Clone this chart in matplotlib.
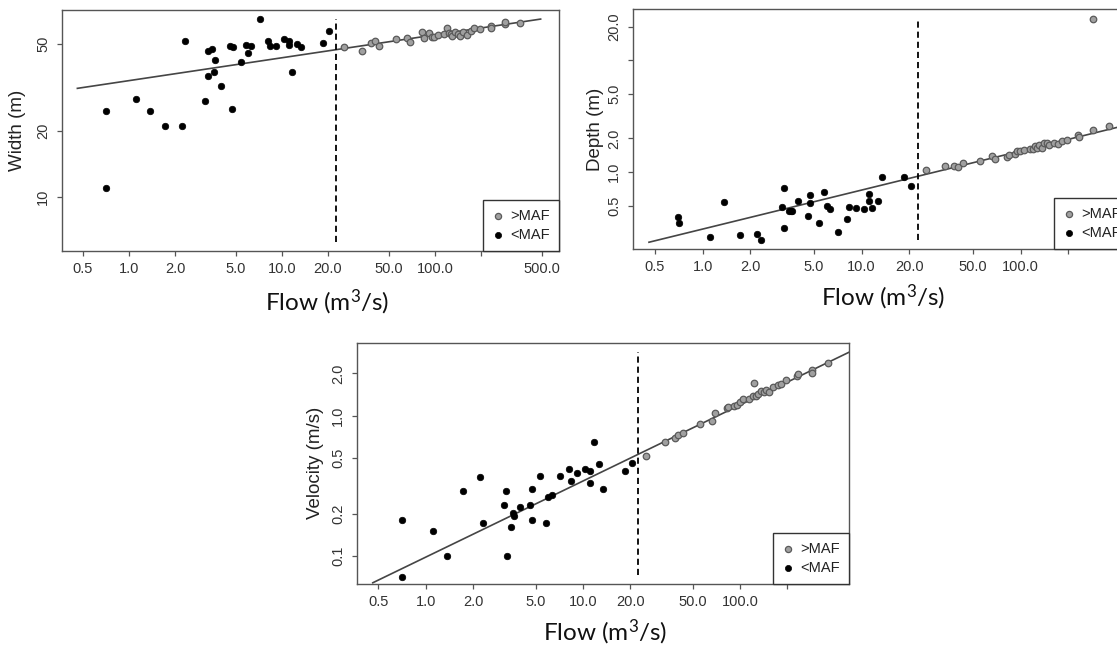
import numpy as np
import matplotlib
matplotlib.use('Agg')
import matplotlib.pyplot as plt
from matplotlib.ticker import FixedLocator, FixedFormatter, NullLocator

plt.rcParams['font.family'] = 'Liberation Sans'
plt.rcParams['mathtext.fontset'] = 'custom'
plt.rcParams['mathtext.rm'] = 'Lato'
plt.rcParams['mathtext.it'] = 'Lato'

# datos: caudal por debajo / por encima del caudal medio anual (MAF)
flow_low = [0.705, 0.71, 1.113, 1.366, 1.717, 2.21, 2.32, 3.15, 3.26, 3.27, 3.49,
            3.58, 3.64, 3.98, 4.57, 4.72, 4.75, 5.36, 5.78, 6.03, 6.31, 7.13, 8.15,
            8.34, 9.2, 10.3, 11.07, 11.1, 11.68, 12.6, 13.37, 18.5, 20.4]
width_low = [24.6, 11.05, 28.1, 24.8, 21.1, 21.1, 51.2, 27.4, 35.6, 46.2, 47.2,
             37.1, 42.2, 32.1, 48.7, 25.1, 48.2, 41.2, 49.4, 45.3, 48.7, 64.4, 51.2,
             48.7, 48.7, 52.3, 51.2, 49.4, 37.2, 49.7, 48.2, 50.1, 57.2]
depth_low = [0.393, 0.349, 0.262, 0.541, 0.271, 0.280, 0.249, 0.488, 0.713, 0.313, 0.453,
             0.447, 0.453, 0.552, 0.403, 0.621, 0.529, 0.349, 0.660, 0.500, 0.468, 0.290,
             0.381, 0.492, 0.478, 0.471, 0.643, 0.552, 0.478, 0.552, 0.911, 0.911, 0.757]
vel_low = [0.0705, 0.180, 0.150, 0.100, 0.291, 0.363, 0.171, 0.230, 0.291, 0.100, 0.160,
           0.202, 0.191, 0.222, 0.230, 0.180, 0.301, 0.373, 0.171, 0.261, 0.271, 0.373,
           0.414, 0.342, 0.392, 0.414, 0.405, 0.331, 0.652, 0.450, 0.301, 0.403, 0.462]

flow_high = [25.3, 33.4, 38.3, 40.4, 43.3, 55.3, 65.9, 69.0, 82.4, 84.1, 91.8, 94.9,
             99.2, 105, 114, 120, 123, 127, 130, 136, 141, 146, 152, 163, 173, 181,
             197, 231, 233, 285, 286, 361]
width_high = [48.2, 46.2, 50.4, 51.3, 48.7, 52.3, 53.2, 51.0, 56.3, 53.2, 55.6, 53.3,
              53.3, 54.7, 55.4, 58.8, 55.6, 55.4, 54.1, 56.6, 55.4, 54.1, 56.6, 54.5,
              57.2, 59.0, 58.0, 60.3, 58.6, 61.6, 62.7, 62.1]
depth_high = [1.045, 1.14, 1.13, 1.11, 1.20, 1.25, 1.40, 1.31, 1.36, 1.41, 1.44, 1.54,
              1.54, 1.56, 1.60, 1.60, 1.71, 1.64, 1.73, 1.64, 1.83, 1.83, 1.76, 1.83,
              1.80, 1.89, 1.95, 2.13, 2.07, 2.36, 23.4, 2.56]
vel_high = [0.513, 0.646, 0.697, 0.728, 0.748, 0.868, 0.916, 1.04, 1.13, 1.15, 1.17, 1.19,
            1.26, 1.31, 1.31, 1.39, 1.72, 1.38, 1.43, 1.51, 1.47, 1.53, 1.47, 1.61,
            1.66, 1.68, 1.78, 1.92, 1.98, 2.10, 2.01, 2.39]

maf = 22.5
# ajustes potenciales y = a * Q^b
width_fit = (33.9, 0.104)
depth_fit = (0.309, 0.349)
vel_fit = (0.0977, 0.543)
fit_range = [0.46, 490]

x_ticks = [0.5, 1, 2, 5, 10, 20, 50, 100, 200, 500]
x_labels = ['0.5', '1.0', '2.0', '5.0', '10.0', '20.0', '50.0', '100.0', '', '500.0']
x_labels_cut = ['0.5', '1.0', '2.0', '5.0', '10.0', '20.0', '50.0', '100.0', '', '']
width_ticks = [10, 20, 50]
width_labels = ['10', '20', '50']
depth_ticks = [0.5, 1, 2, 5, 10, 20]
depth_labels = ['0.5', '1.0', '2.0', '5.0', '', '20.0']
vel_ticks = [0.1, 0.2, 0.5, 1, 2]
vel_labels = ['0.1', '0.2', '0.5', '1.0', '2.0']

W, H = 1117, 645
fig = plt.figure(figsize=(W / 100, H / 100), dpi=100)

plt.rcParams.update({'legend.fontsize': 10.5, 'legend.borderpad': 0.62,
                     'legend.labelspacing': 0.32, 'legend.handletextpad': 0.45,
                     'legend.handlelength': 0.8, 'legend.fancybox': False,
                     'legend.framealpha': 1, 'legend.markerscale': 0.95})


def add_ax(left, top, right, bottom):
    return fig.add_axes([left / W, 1 - bottom / H, (right - left) / W, (bottom - top) / H])


def panel(ax, ylim, xlim, xlabels, yticks, ylabels, y_high, y_low, fit, leg_x=None):
    ax.set_xscale('log')
    ax.set_yscale('log')
    ax.set_xlim(xlim)
    ax.set_ylim(ylim)

    q = np.array(fit_range)
    ax.plot(q, fit[0] * q ** fit[1], color='#454545', lw=1.2, zorder=2)

    # linea vertical en el MAF (rango interno del eje, como en R)
    lo, hi = np.log10(ylim)
    ext = (hi - lo) * 0.04 / 1.08
    ax.plot([maf, maf], [10 ** (lo + ext), 10 ** (hi - ext)], color='black',
            lw=1.3, dashes=(3.4, 2.2), zorder=2)

    ax.scatter(flow_high, y_high, s=22, c='#a0a0a0', edgecolors='#5a5a5a',
               linewidths=0.9, zorder=3, label='>MAF')
    ax.scatter(flow_low, y_low, s=22, c='black', edgecolors='black',
               linewidths=0.5, zorder=4, label='<MAF')

    ax.xaxis.set_major_locator(FixedLocator(x_ticks))
    ax.xaxis.set_major_formatter(FixedFormatter(xlabels))
    ax.yaxis.set_major_locator(FixedLocator(yticks))
    ax.yaxis.set_major_formatter(FixedFormatter(ylabels))
    ax.xaxis.set_minor_locator(NullLocator())
    ax.yaxis.set_minor_locator(NullLocator())
    ax.tick_params(length=3.6, width=0.9, color='#555555', labelsize=10.5,
                   labelcolor='#333333')
    ax.tick_params(axis='x', pad=4.0)
    ax.tick_params(axis='y', labelrotation=90, pad=5.0)
    for lab in ax.get_yticklabels():
        lab.set_va('center')

    for s in ax.spines.values():
        s.set_color('#555555')
        s.set_linewidth(1.0)

    if leg_x is None:
        leg = ax.legend(loc='lower right', bbox_to_anchor=(1, 0), borderaxespad=0)
    else:
        leg = ax.legend(loc='lower left', bbox_to_anchor=(leg_x, 0), borderaxespad=0)
    leg.get_frame().set_edgecolor('#333333')
    leg.get_frame().set_linewidth(1.0)
    for t in leg.get_texts():
        t.set_color('#222222')


flow_label = 'Flow (m$^3$/s)'

# Grafico 1: ancho
ax1 = add_ax(62, 10, 559, 251)
panel(ax1, (5.70, 71.0), (0.365, 646), x_labels, width_ticks, width_labels,
      width_high, width_low, width_fit)
fig.text(18 / W, 1 - 130 / H, 'Width (m)', rotation=90, ha='center', va='center',
         fontsize=13.5, color='#222222')
fig.text(327 / W, 1 - 302 / H, flow_label, ha='center', va='center',
         fontsize=17.5, family='Lato', color='#111111')

# Grafico 2: profundidad (recortado a la derecha)
ax2 = add_ax(633, 9.3, 1149.4, 249)
panel(ax2, (0.205, 28.6), (0.365, 646), x_labels_cut, depth_ticks, depth_labels,
      depth_high, depth_low, depth_fit, leg_x=(1054 - 633) / (1149.4 - 633))
fig.text(595 / W, 1 - 129 / H, 'Depth (m)', rotation=90, ha='center', va='center',
         fontsize=13.5, color='#222222')
fig.text(883 / W, 1 - 297 / H, flow_label, ha='center', va='center',
         fontsize=17.5, family='Lato', color='#111111')

# Grafico 3: velocidad
ax3 = add_ax(357, 343.3, 849, 584)
panel(ax3, (0.0628, 3.28), (0.365, 493), x_labels, vel_ticks, vel_labels,
      vel_high, vel_low, vel_fit)
fig.text(316 / W, 1 - 463 / H, 'Velocity (m/s)', rotation=90, ha='center', va='center',
         fontsize=13.5, color='#222222')
fig.text(605 / W, 1 - 632 / H, flow_label, ha='center', va='center',
         fontsize=17.5, family='Lato', color='#111111')

fig.savefig('out.png', dpi=100)
